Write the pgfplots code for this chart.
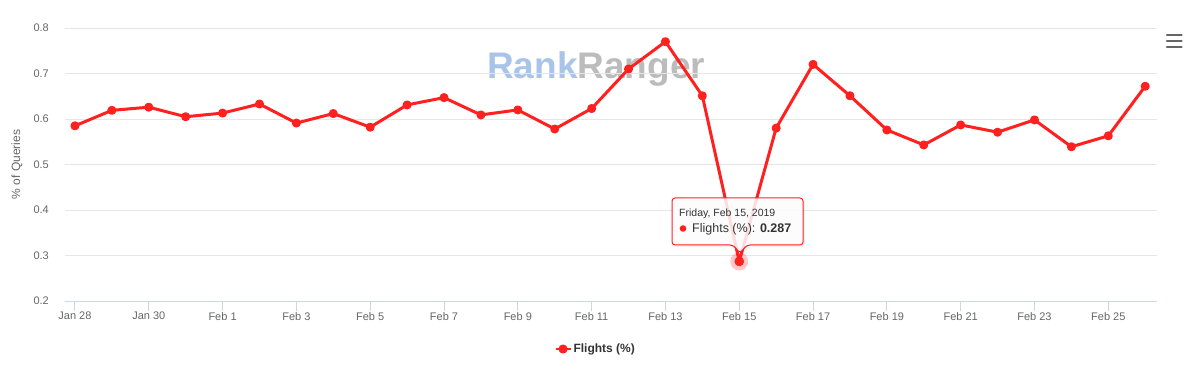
\documentclass[border=0pt]{standalone}
\usepackage{fontspec}
\setmainfont{Liberation Sans}
\usepackage{pgfplots}
\pgfplotsset{compat=1.18}
\definecolor{lred}{RGB}{255,32,32}
\definecolor{txt}{HTML}{666666}
\definecolor{dtxt}{HTML}{333333}
\definecolor{gridc}{HTML}{E6E6E6}
\definecolor{axl}{HTML}{CCD6EB}
\definecolor{wmblue}{RGB}{168,196,232}
\definecolor{wmgray}{RGB}{188,188,188}
\begin{document}
\begin{tikzpicture}[x=1pt,y=1pt]
\useasboundingbox (-65,-74) rectangle (1132,301);
\node[anchor=base west, inner sep=0pt, font=\fontsize{37}{40}\selectfont\bfseries] at (422,222) {\textcolor{wmblue}{Rank}\textcolor{wmgray}{Ranger}};
\begin{axis}[
  at={(0,0)}, anchor=south west,
  scale only axis, width=1092pt, height=273pt,
  xmin=-0.27, xmax=29.32, ymin=0.2, ymax=0.8,
  axis x line*=bottom, axis y line*=left,
  y axis line style={draw=none},
  x axis line style={draw=axl, line width=1pt},
  xtick={0,2,4,6,8,10,12,14,16,18,20,22,24,26,28},
  xticklabels={Jan 28,Jan 30,Feb 1,Feb 3,Feb 5,Feb 7,Feb 9,Feb 11,Feb 13,Feb 15,Feb 17,Feb 19,Feb 21,Feb 23,Feb 25},
  ytick={0.2,0.3,0.4,0.5,0.6,0.7,0.8},
  yticklabels={0.2,0.3,0.4,0.5,0.6,0.7,0.8},
  ymajorgrids, major grid style={draw=gridc, line width=1pt},
  xtick align=outside, ytick align=inside, major tick length=10pt,
  xtick style={draw=axl, line width=1pt},
  ytick style={draw=none},
  ticklabel style={font=\fontsize{11}{13}\selectfont, text=txt},
  yticklabel style={anchor=east, inner sep=0pt, xshift=-16pt},
  xticklabel style={anchor=north, inner sep=0pt, yshift=-1pt},
  ylabel={\% of Queries},
  ylabel style={at={(axis description cs:-0.044,0.5)}, anchor=center, font=\fontsize{12}{14}\selectfont, text=txt},
  legend style={at={(axis description cs:0.486,-0.176)}, anchor=center, draw=none, fill=none, font=\fontsize{12}{14}\selectfont\bfseries, text=dtxt, inner sep=0pt},
  legend image code/.code={\draw[lred, line width=2pt] (0pt,0pt) -- (15pt,0pt); \fill[lred] (7.5pt,0pt) circle (3pt);},
]
\addplot[lred, forget plot, only marks, mark=*, mark size=9pt, mark options={fill=lred, draw=lred, fill opacity=0.25, draw opacity=0}] coordinates {(18,0.287)};
\addplot[lred, line width=3pt, line join=round, mark=*, mark size=3pt, mark options={draw=none, fill=lred}] coordinates {
(0,0.585) (1,0.619) (2,0.626) (3,0.605) (4,0.613) (5,0.633) (6,0.591) (7,0.612) (8,0.582) (9,0.631)
(10,0.647) (11,0.609) (12,0.620) (13,0.578) (14,0.623) (15,0.710) (16,0.770) (17,0.651) (18,0.287) (19,0.580)
(20,0.720) (21,0.651) (22,0.576) (23,0.543) (24,0.587) (25,0.571) (26,0.598) (27,0.539) (28,0.563) (29,0.672)
};
\addlegendentry{Flights (\%)}
\addplot[lred, forget plot, only marks, mark=*, mark size=4.5pt, mark options={draw=lred, fill=lred}] coordinates {(18,0.287)};
\node[rotate=-90, anchor=center, font=\fontsize{12}{14}\selectfont, text=txt] at (axis description cs:1.0147,0.5) {Average};
\end{axis}
% menu icon
\draw[txt, line width=2.6pt, line cap=round] (1102,266) -- (1116.5,266) (1102,260) -- (1116.5,260) (1102,254) -- (1116.5,254);
% tooltip
\fill[black, opacity=0.06, rounded corners=3pt] (609,54) -- (670,54) -- (677,46) -- (684,54) -- (740,54) -- (740,101) -- (609,101) -- cycle;
\draw[lred, line width=1pt, fill=white, fill opacity=0.85, rounded corners=3pt] (607,56) -- (668,56) -- (675,48) -- (682,56) -- (738,56) -- (738,103) -- (607,103) -- cycle;
\node[anchor=base west, inner sep=0pt, font=\fontsize{10.5}{12}\selectfont, text=dtxt] at (614,84) {Friday, Feb 15, 2019};
\fill[lred] (618,72.5) circle (3.3pt);
\node[anchor=base west, inner sep=0pt, font=\fontsize{12.5}{14}\selectfont, text=dtxt] at (627,68) {Flights (\%): \textbf{0.287}};
\end{tikzpicture}
\end{document}
